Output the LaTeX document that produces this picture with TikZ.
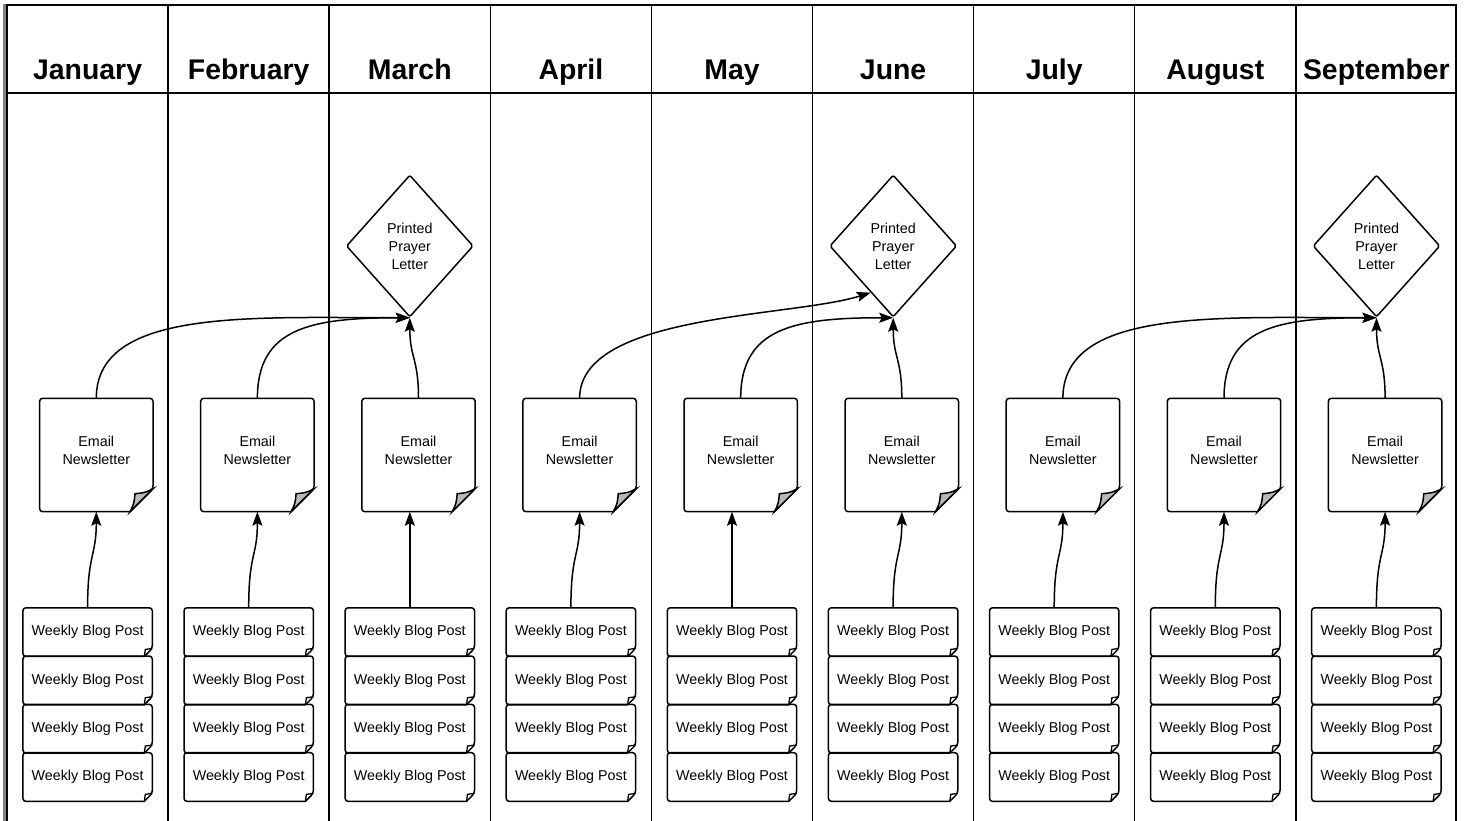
\documentclass[tikz,border=0pt]{standalone}
\usepackage{fontspec}
\setmainfont{Liberation Sans}
\usetikzlibrary{shapes.geometric,arrows.meta,calc}

\tikzset{
  lane/.style={line width=1.5pt},
  month/.style={font=\bfseries\fontsize{28.4}{30}\selectfont, anchor=base},
  email/.style={minimum width=113pt, minimum height=113pt, inner sep=0pt, text depth=10pt, align=center, font=\fontsize{14.3}{18}\selectfont},
  blog/.style={minimum width=129pt, minimum height=48.3pt, inner sep=0pt, font=\fontsize{14.3}{18}\selectfont},
  letter/.style={diamond, draw, line width=1.5pt, rounded corners=2pt, minimum width=127pt, minimum height=142pt, inner sep=0pt, align=center, font=\fontsize{14.3}{18}\selectfont},
  edge/.style={line width=1.5pt, rounded corners=3pt},
  link/.style={-{Stealth[length=14pt,width=10pt,inset=2.5pt]}, line width=1.5pt}
}

\begin{document}
\begin{tikzpicture}[x=1pt,y=-1pt]
\useasboundingbox (0,0) rectangle (1464,821);

% swim lanes
\draw[line width=3pt, gray] (4.5,4) -- (4.5,821);
\draw[lane] (7,821) -- (7,5) -- (1456,5) -- (1456,821);
\draw[lane] (7,93) -- (1456,93);
\foreach \i in {1,...,8}
  \draw[lane] ({7+161.1*\i},5) -- ({7+161.1*\i},821);

% months, newsletters and blog posts
\foreach \m [count=\i from 0] in {January,February,March,April,May,June,July,August,September}{
  \node[month] (m\i) at ({87.6+161.1*\i},80) {\m};
  \node[email] (e\i) at ({96.3+161.1*\i},455) {Email\\Newsletter};
  \draw[edge] ([xshift=-23pt]e\i.south east) -- (e\i.south west) -- (e\i.north west) -- (e\i.north east) -- ([yshift=23pt]e\i.south east) [sharp corners] -- cycle;
  \filldraw[fill=gray!55, line width=1.5pt] ([yshift=23pt]e\i.south east) .. controls ([xshift=-8pt,yshift=19pt]e\i.south east) .. ([xshift=-18pt,yshift=18pt]e\i.south east) .. controls ([xshift=-19pt,yshift=8pt]e\i.south east) .. ([xshift=-23pt]e\i.south east) -- cycle;
  \foreach \k in {1,...,4}{
    \node[blog] (b\i\k) at ({87.6+161.1*\i},{583.8+48.3*\k}) {Weekly Blog Post};
    \draw[edge] ([xshift=-8pt]b\i\k.south east) -- (b\i\k.south west) -- (b\i\k.north west) -- (b\i\k.north east) -- ([yshift=8pt]b\i\k.south east) [sharp corners] -- cycle;
    \draw[line width=1.3pt] ([xshift=-8pt]b\i\k.south east) -- ([xshift=-7pt,yshift=7pt]b\i\k.south east) -- ([yshift=8pt]b\i\k.south east);
  }
}

% prayer letters
\node[letter] (p2) at (409.8,246) {Printed\\Prayer\\Letter};
\node[letter] (p5) at (893.2,246) {Printed\\Prayer\\Letter};
\node[letter] (p8) at (1376.5,246) {Printed\\Prayer\\Letter};

% blog posts -> newsletter
\foreach \i in {0,1,3,5,6,7,8}
  \draw[link] (b\i1.north) .. controls +(0,-55) and +(0,45) .. (e\i.south);
\foreach \i in {2,4}
  \draw[link] (b\i1.north) -- (b\i1.north |- e\i.south);

% newsletters -> prayer letters
\draw[link] (e0.north) .. controls +(0,-90) and +(-160,0) .. (p2.south);
\draw[link] (e1.north) .. controls +(0,-70) and +(-100,0) .. (p2.south);
\draw[link] (e2.north) .. controls +(0,-40) and +(0,40) .. (p2.south);
\draw[link] (e3.north) .. controls +(0,-85) and +(-80,25) .. ($(p5.south)!0.35!(p5.west)$);
\draw[link] (e4.north) .. controls +(0,-70) and +(-100,0) .. (p5.south);
\draw[link] (e5.north) .. controls +(0,-40) and +(0,40) .. (p5.south);
\draw[link] (e6.north) .. controls +(0,-90) and +(-160,0) .. (p8.south);
\draw[link] (e7.north) .. controls +(0,-70) and +(-100,0) .. (p8.south);
\draw[link] (e8.north) .. controls +(0,-40) and +(0,40) .. (p8.south);
\end{tikzpicture}
\end{document}
